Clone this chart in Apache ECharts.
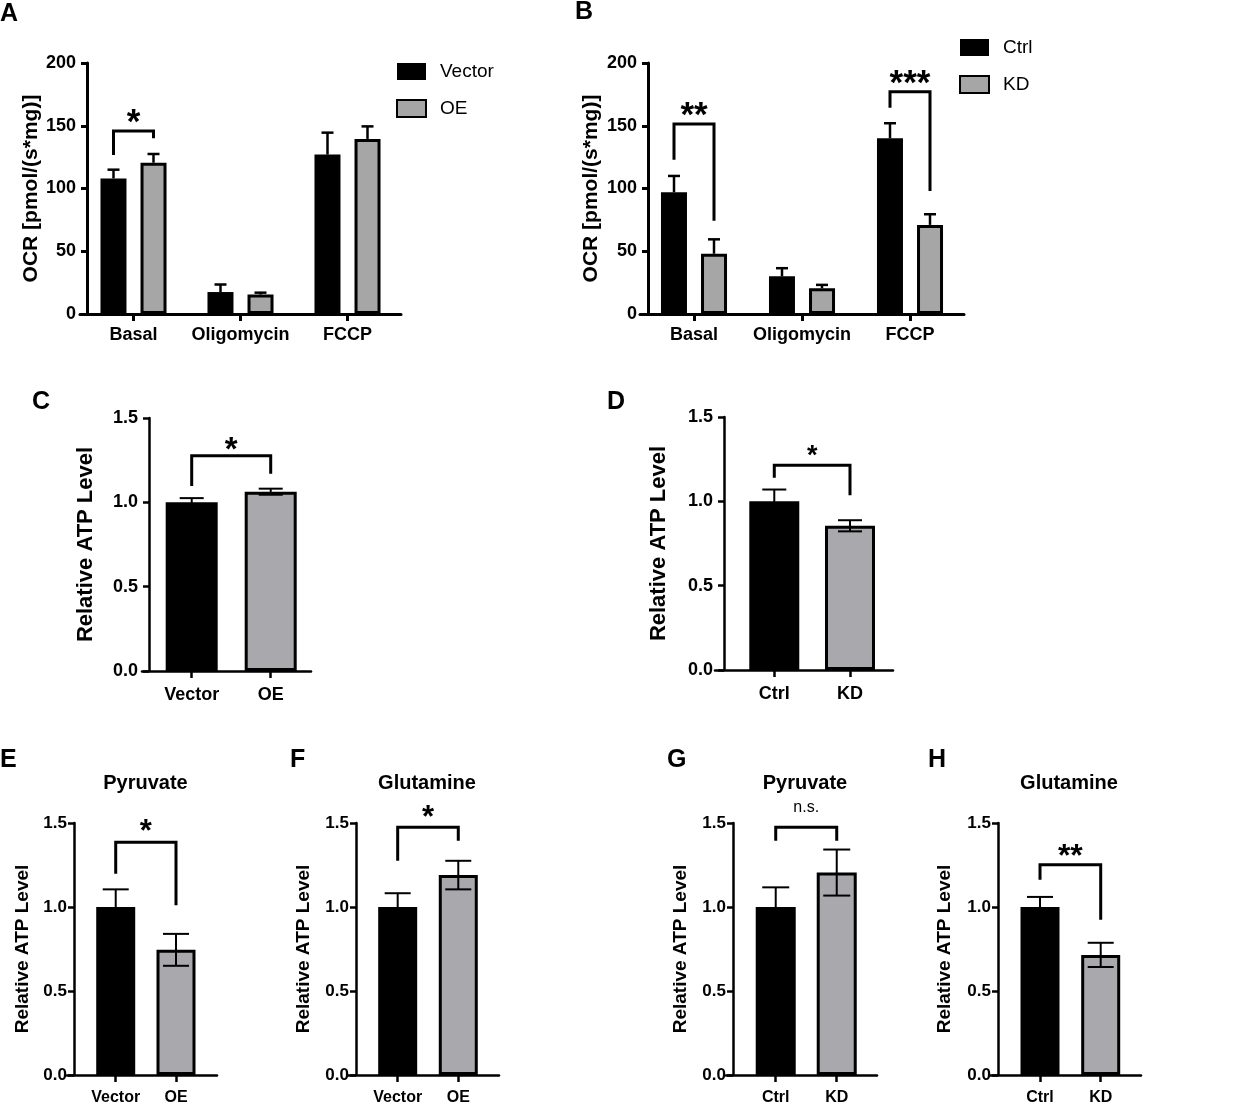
<!DOCTYPE html>
<html>
<head>
<meta charset="utf-8">
<title>OCR / ATP</title>
<script src="https://cdn.jsdelivr.net/npm/echarts@6/dist/echarts.min.js"></script>
</head>
<body style="margin:0;background:#fff">
<div id="main" style="width:1233px;height:1107px;"></div>
<script type="text/javascript">
// ---- data ----
var ocrCats = ['Basal', 'Oligomycin', 'FCCP'];
var vectorOCR = [108, 17.5, 127];
var vectorOCRErr = [7, 6, 17.5];
var oeOCR = [120.5, 15.5, 139.5];
var oeOCRErr = [7, 1.5, 10];
var ctrlOCR = [97, 30, 140];
var ctrlOCRErr = [13, 6.5, 12];
var kdOCR = [48, 20.5, 71];
var kdOCRErr = [11.5, 2.7, 8.5];

var oeCats = ['Vector', 'OE'];
var kdCats = ['Ctrl', 'KD'];
var atpC = [1.0, 1.063], atpCErr = [0.025, 0.018];
var atpD = [1.0, 0.855], atpDErr = [0.07, 0.033];
var atpE = [1.0, 0.745], atpEErr = [0.105, 0.095];
var atpF = [1.0, 1.19], atpFErr = [0.082, 0.085];
var atpG = [1.0, 1.205], atpGErr = [0.117, 0.137];
var atpH = [1.0, 0.715], atpHErr = [0.06, 0.072];

// brackets: [x0, x1, top, left leg end, right leg end]
var sigA = [[0, 0, 145.8, 126.7, 140]], sigAText = ['*'];
var sigB = [[0, 0, 151.4, 123, 74.3], [2, 2, 177, 164.4, 98]], sigBText = ['**', '***'];
var sigC = [[0, 1, 1.276, 1.097, 1.169]];
var sigD = [[0, 1, 1.214, 1.14, 1.036]];
var sigE = [[0, 1, 1.385, 1.198, 1.01]];
var sigF = [[0, 1, 1.475, 1.276, 1.395]];
var sigG = [[0, 1, 1.475, 1.395, 1.395]];
var sigH = [[0, 1, 1.251, 1.162, 0.924]];

var FONT = 'Liberation Sans';
var GRAY1 = '#a6a6a6';
var GRAY2 = '#a9a9ad';

var myChart = echarts.init(document.getElementById('main'));
var option = { animation: false, backgroundColor: '#fff', title: [], legend: [], grid: [], xAxis: [], yAxis: [], series: [] };

function yAxisDef(gi, max, interval, offset, name, cfg) {
	return {
		gridIndex: gi, type: 'value', min: 0, max: max, interval: interval, offset: offset,
		axisLine: { show: true, onZero: false, lineStyle: { color: '#000', width: cfg.axisW } },
		axisTick: { show: true, length: 6, lineStyle: { color: '#000', width: cfg.axisW } },
		axisLabel: {
			color: '#000', fontWeight: 'bold', fontSize: cfg.tickSize, fontFamily: FONT, margin: cfg.labelMargin,
			formatter: function (v) { return max < 10 ? v.toFixed(1) : String(v); }
		},
		splitLine: { show: false },
		name: name, nameLocation: 'middle', nameGap: cfg.nameGap,
		nameTextStyle: { color: '#000', fontWeight: 'bold', fontSize: cfg.nameSize, fontFamily: FONT }
	};
}

function errSeries(gi, xs, means, errs, twoSided, dx, capW, lw) {
	var data = means.map(function (m, i) { return [xs[i], m, errs[i], twoSided ? errs[i] : 0]; });
	return {
		type: 'custom', xAxisIndex: gi, yAxisIndex: gi, z: 5, silent: true, data: data,
		renderItem: function (params, api) {
			var x = api.value(0), y = api.value(1);
			var top = api.coord([x, y + api.value(2)]);
			var bot = api.coord([x, y - api.value(3)]);
			var cx = top[0] + dx;
			var st = { stroke: '#000', lineWidth: lw };
			var kids = [
				{ type: 'line', shape: { x1: cx, y1: bot[1], x2: cx, y2: top[1] }, style: st },
				{ type: 'line', shape: { x1: cx - capW / 2, y1: top[1], x2: cx + capW / 2, y2: top[1] }, style: st }
			];
			if (twoSided) kids.push({ type: 'line', shape: { x1: cx - capW / 2, y1: bot[1], x2: cx + capW / 2, y2: bot[1] }, style: st });
			return { type: 'group', children: kids };
		}
	};
}

function sigSeries(gi, items, labels, dx0, dx1, lw, fs, fw, gap) {
	return {
		type: 'custom', xAxisIndex: gi, yAxisIndex: gi, z: 6, silent: true, data: items,
		renderItem: function (params, api) {
			var x0 = api.value(0), x1 = api.value(1);
			var a = api.coord([x0, api.value(2)]), b = api.coord([x1, api.value(2)]);
			var la = api.coord([x0, api.value(3)]), rb = api.coord([x1, api.value(4)]);
			var xa = a[0] + dx0, xb = b[0] + dx1;
			return {
				type: 'group', children: [
					{ type: 'polyline', shape: { points: [[xa, la[1]], [xa, a[1]], [xb, a[1]], [xb, rb[1]]] },
					  style: { stroke: '#000', lineWidth: lw, fill: null, lineJoin: 'miter' } },
					{ type: 'text', x: (xa + xb) / 2, y: a[1] - gap,
					  style: { text: labels[params.dataIndex], fontSize: fs, fontWeight: fw, fontFamily: FONT, fill: '#000', align: 'center', verticalAlign: 'middle' } }
				]
			};
		}
	};
}

function letter(t, x, y) {
	option.title.push({ text: t, left: x, top: y, padding: 0,
		textStyle: { fontSize: 25, fontWeight: 'bold', color: '#000', fontFamily: FONT } });
}

// ---- OCR panels A and B ----
var ocrPanels = [
	{ letter: 'A', lx: 0, ly: 2, names: ['Vector', 'OE'], m0: vectorOCR, e0: vectorOCRErr, m1: oeOCR, e1: oeOCRErr,
	  sig: sigA, sigText: sigAText, grid: { left: 80, top: 63, width: 321, height: 251 }, yOffset: -7, nameGap: 45,
	  legend: { left: 396, top: 62 } },
	{ letter: 'B', lx: 575, ly: 0, names: ['Ctrl', 'KD'], m0: ctrlOCR, e0: ctrlOCRErr, m1: kdOCR, e1: kdOCRErr,
	  sig: sigB, sigText: sigBText, grid: { left: 640, top: 63, width: 324, height: 251 }, yOffset: -8, nameGap: 46,
	  legend: { left: 959, top: 38 } }
];

ocrPanels.forEach(function (p, gi) {
	var cfg = { axisW: 3, tickSize: 18, labelMargin: 11, nameGap: p.nameGap, nameSize: 21 };
	letter(p.letter, p.lx, p.ly);
	option.grid.push(p.grid);
	option.xAxis.push({
		gridIndex: gi, type: 'category', data: ocrCats,
		axisLine: { show: true, onZero: false, lineStyle: { color: '#000', width: 3 } },
		axisTick: { show: true, alignWithLabel: true, interval: 0, length: 7, lineStyle: { color: '#000', width: 3 } },
		axisLabel: { interval: 0, color: '#000', fontWeight: 'bold', fontSize: 18, fontFamily: FONT, margin: 12 }
	});
	option.yAxis.push(yAxisDef(gi, 200, 50, p.yOffset, 'OCR [pmol/(s*mg)]', cfg));
	option.series.push({
		name: p.names[0], type: 'bar', xAxisIndex: gi, yAxisIndex: gi, data: p.m0, barWidth: 26, barGap: '54%',
		itemStyle: { color: '#000' }
	});
	option.series.push({
		name: p.names[1], type: 'bar', xAxisIndex: gi, yAxisIndex: gi, data: p.m1, barWidth: 26, barGap: '54%',
		itemStyle: { color: GRAY1, borderColor: '#000', borderWidth: 3 }
	});
	var idx = ocrCats.map(function (c, i) { return i; });
	option.series.push(errSeries(gi, idx, p.m0, p.e0, false, -20, 12, 2.5));
	option.series.push(errSeries(gi, idx, p.m1, p.e1, false, 20, 12, 2.5));
	option.series.push(sigSeries(gi, p.sig, p.sigText, -20, 20, 3, 35, 'bold', 8));
	option.legend.push({
		data: p.names, orient: 'vertical', left: p.legend.left, top: p.legend.top, padding: 0,
		icon: 'rect', itemWidth: 29, itemHeight: 17, itemGap: 18, selectedMode: false,
		textStyle: { color: '#000', fontSize: 19, fontFamily: FONT, padding: [0, 0, 0, 9] }
	});
});

// ---- ATP panels C-H ----
var atpPanels = [
	{ letter: 'C', lx: 32, ly: 390, cats: oeCats, mean: atpC, err: atpCErr, sig: sigC, sigText: ['*'],
	  grid: { left: 142, top: 418, width: 169, height: 253 }, xMin: -0.629, xMax: 1.51, yOffset: -7, barW: 52, capW: 24,
	  tickSize: 18, catSize: 18, nameSize: 22, nameGap: 52, labelMargin: 11, catMargin: 15, starSize: 33, starWeight: 'bold', starGap: 5 },
	{ letter: 'D', lx: 607, ly: 390, cats: kdCats, mean: atpD, err: atpDErr, sig: sigD, sigText: ['*'],
	  grid: { left: 715, top: 417, width: 178, height: 253 }, xMin: -0.783, xMax: 1.568, yOffset: -9, barW: 50, capW: 24,
	  tickSize: 18, catSize: 18, nameSize: 22, nameGap: 54, labelMargin: 11, catMargin: 15, starSize: 27, starWeight: 'bold', starGap: 9 },
	{ letter: 'E', lx: 0, ly: 748, title: 'Pyruvate', cats: oeCats, mean: atpE, err: atpEErr, sig: sigE, sigText: ['*'],
	  grid: { left: 67, top: 823, width: 150, height: 252 }, xMin: -0.808, xMax: 1.68, yOffset: -7, barW: 39, capW: 26,
	  tickSize: 17, catSize: 16, nameSize: 19, nameGap: 42, labelMargin: 7, catMargin: 15, starSize: 31, starWeight: 'bold', starGap: 10 },
	{ letter: 'F', lx: 290, ly: 748, title: 'Glutamine', cats: oeCats, mean: atpF, err: atpFErr, sig: sigF, sigText: ['*'],
	  grid: { left: 348, top: 823, width: 151, height: 252 }, xMin: -0.82, xMax: 1.672, yOffset: -8, barW: 39, capW: 26,
	  tickSize: 17, catSize: 16, nameSize: 19, nameGap: 43, labelMargin: 7, catMargin: 15, starSize: 31, starWeight: 'bold', starGap: 9 },
	{ letter: 'G', lx: 667, ly: 748, title: 'Pyruvate', cats: kdCats, mean: atpG, err: atpGErr, sig: sigG, sigText: ['n.s.'],
	  grid: { left: 726, top: 823, width: 151, height: 252 }, xMin: -0.815, xMax: 1.66, yOffset: -7, barW: 40, capW: 27,
	  tickSize: 17, catSize: 16, nameSize: 19, nameGap: 43, labelMargin: 7, catMargin: 15, starSize: 16, starWeight: 'normal', starGap: 20 },
	{ letter: 'H', lx: 928, ly: 748, title: 'Glutamine', cats: kdCats, mean: atpH, err: atpHErr, sig: sigH, sigText: ['**'],
	  grid: { left: 990, top: 823, width: 151, height: 252 }, xMin: -0.824, xMax: 1.664, yOffset: -8, barW: 39, capW: 26,
	  tickSize: 17, catSize: 16, nameSize: 19, nameGap: 44, labelMargin: 7, catMargin: 15, starSize: 32, starWeight: 'bold', starGap: 8 }
];

atpPanels.forEach(function (p, k) {
	var gi = k + 2;
	p.axisW = 2.5;
	letter(p.letter, p.lx, p.ly);
	if (p.title) {
		option.title.push({ text: p.title, left: p.grid.left + 7 + (p.grid.width - 7) / 2, top: 773, padding: 0, textAlign: 'center',
			textStyle: { fontSize: 20, fontWeight: 'bold', color: '#000', fontFamily: FONT } });
	}
	option.grid.push(p.grid);
	var ticks = p.cats.map(function (c, i) { return i; });
	option.xAxis.push({
		gridIndex: gi, type: 'value', min: p.xMin, max: p.xMax,
		axisLine: { show: true, onZero: false, lineStyle: { color: '#000', width: 2.5 } },
		axisTick: { show: true, customValues: ticks, length: 7, lineStyle: { color: '#000', width: 2.5 } },
		axisLabel: { show: true, customValues: ticks, color: '#000', fontWeight: 'bold', fontSize: p.catSize, fontFamily: FONT, margin: p.catMargin,
			formatter: function (v) { return p.cats[Math.round(v)]; } },
		splitLine: { show: false }
	});
	option.yAxis.push(yAxisDef(gi, 1.5, 0.5, p.yOffset, 'Relative ATP Level', p));
	option.series.push({
		name: 'ATP ' + p.letter, type: 'bar', xAxisIndex: gi, yAxisIndex: gi, barWidth: p.barW,
		data: p.mean.map(function (v, i) {
			return { value: [i, v], itemStyle: i === 0 ? { color: '#000' } : { color: GRAY2, borderColor: '#000', borderWidth: 3 } };
		})
	});
	option.series.push(errSeries(gi, ticks, p.mean, p.err, true, 0, p.capW, 2));
	option.series.push(sigSeries(gi, p.sig, p.sigText, 0, 0, 3, p.starSize, p.starWeight, p.starGap));
});

myChart.setOption(option);
</script>
</body>
</html>
